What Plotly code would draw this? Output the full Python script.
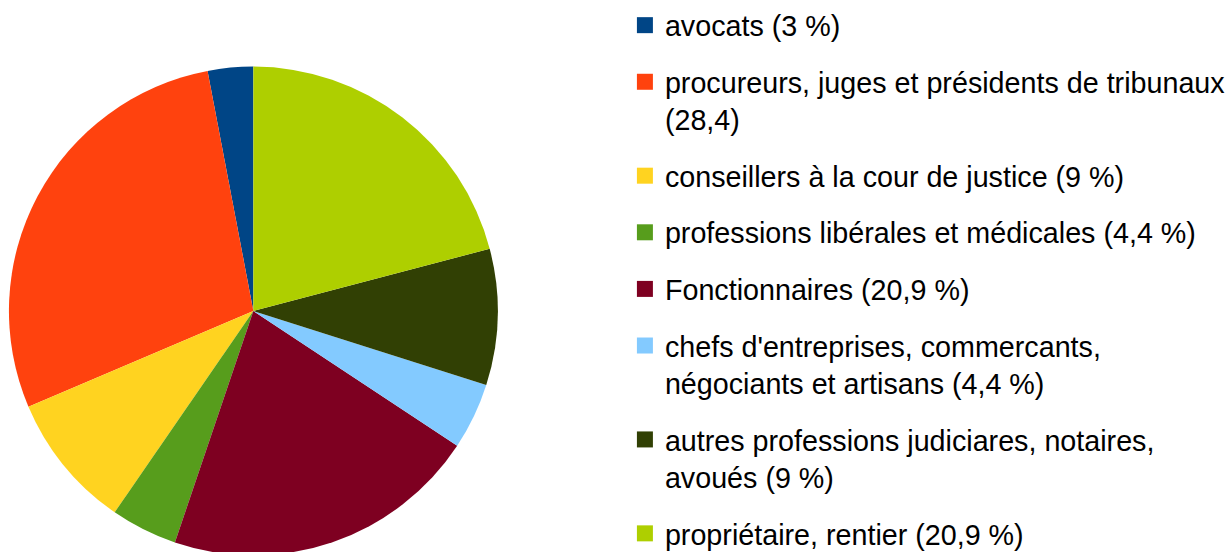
import plotly.graph_objects as go

categories = [
    "avocats",
    "procureurs, juges et présidents de tribunaux",
    "conseillers à la cour de justice",
    "professions libérales et médicales",
    "Fonctionnaires",
    "chefs d'entreprises, commercants, négociants et artisans",
    "autres professions judiciares, notaires, avoués",
    "propriétaire, rentier",
]
values = [3, 28.4, 9, 4.4, 20.9, 4.4, 9, 20.9]
legend_labels = [
    "avocats (3 %)",
    "procureurs, juges et présidents de tribunaux<br>(28,4)",
    "conseillers à la cour de justice (9 %)",
    "professions libérales et médicales (4,4 %)",
    "Fonctionnaires (20,9 %)",
    "chefs d'entreprises, commercants,<br>négociants et artisans (4,4 %)",
    "autres professions judiciares, notaires,<br>avoués (9 %)",
    "propriétaire, rentier (20,9 %)",
]
colors = ["#004586", "#ff420e", "#ffd320", "#579d1c",
          "#7e0021", "#83caff", "#314004", "#aecf00"]

W, H = 1231, 580
cx, cy, r = 255, 311, 246

# plotly puts the first slice clockwise of the start angle when the
# direction is counterclockwise; turn it back so it starts at 12 o'clock
start_rotation = -360 * values[0] / sum(values)

fig = go.Figure()
fig.add_trace(go.Pie(
    labels=categories,
    values=values,
    sort=False,
    direction="counterclockwise",
    rotation=start_rotation,
    textinfo="none",
    marker=dict(colors=colors, line=dict(width=0)),
    showlegend=False,
    domain=dict(x=[(cx - r) / W, (cx + r) / W],
                y=[(H - (cy + r)) / H, (H - (cy - r)) / H]),
))

# legend entries (one group per category so that the gaps can be set)
for cat, lab, col in zip(categories, legend_labels, colors):
    fig.add_trace(go.Scatter(
        x=[None], y=[None], mode="markers", name=lab,
        legendgroup=cat,
        marker=dict(symbol="square", size=16, color=col, line=dict(width=0)),
        hoverinfo="skip",
    ))

fig.update_layout(
    width=W, height=H,
    margin=dict(l=0, r=0, t=0, b=0),
    paper_bgcolor="white", plot_bgcolor="white",
    font=dict(family="Liberation Sans, Arial, sans-serif", size=28.7, color="black"),
    xaxis=dict(visible=False), yaxis=dict(visible=False),
    legend=dict(
        x=629 / W, y=1, xanchor="left", yanchor="top",
        traceorder="grouped", tracegroupgap=16.3, valign="top",
        font=dict(size=28.7), bgcolor="rgba(0,0,0,0)", borderwidth=0,
    ),
)

fig.write_html(
    "out.html",
    config={"displayModeBar": False},
    post_script="document.body.style.margin='0';document.body.style.overflow='hidden';",
)
